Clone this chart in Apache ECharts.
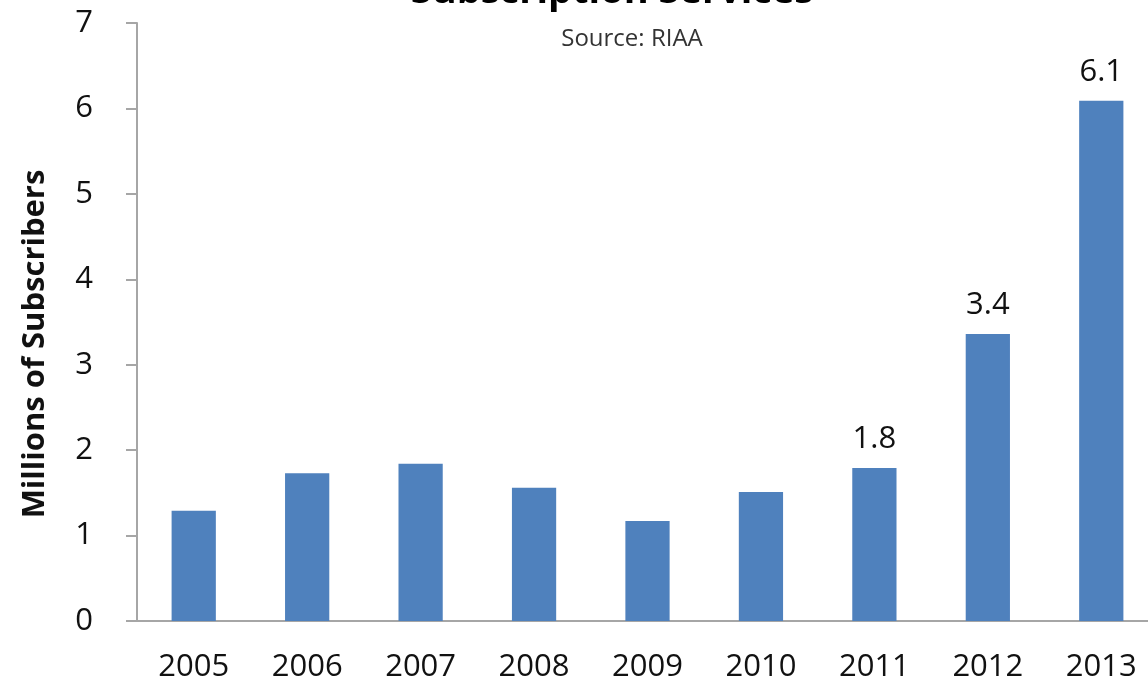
<!DOCTYPE html>
<html>
<head>
<meta charset="utf-8">
<script src="https://cdn.jsdelivr.net/npm/echarts@6/dist/echarts.min.js"></script>
<style>
  html, body {margin: 0; padding: 0; background: #fff; overflow: hidden;}
  #chart {width: 1170px; height: 687px;}
</style>
</head>
<body>
<div id="chart"></div>
<script>
const years = ['2005', '2006', '2007', '2008', '2009', '2010', '2011', '2012', '2013']
const subscribers = [1.29, 1.73, 1.84, 1.56, 1.17, 1.51, 1.79, 3.36, 6.09]
const shownLabels = {'2011': '1.8', '2012': '3.4', '2013': '6.1'}
const yTicks = [0, 7, 1]  // min, max, interval

const font = '"Open Sans", "Liberation Sans", sans-serif'
const axisGray = '#a6a6a6'
const ink = '#111'

const chart = echarts.init(document.getElementById('chart'))

chart.setOption({
  animation: false,
  title: [{
    text: 'Subscription Services',
    left: 607,
    top: -32,
    textAlign: 'center',
    textStyle: {fontFamily: font, fontSize: 38, fontWeight: 'bold', color: '#000'},
  }, {
    text: 'Source: RIAA',
    left: 627,
    top: 22,
    textAlign: 'center',
    textStyle: {fontFamily: font, fontSize: 24, fontWeight: 'normal', color: '#333'},
  }],
  // the plot runs past the right edge of the window, as in the picture
  grid: {left: 137, top: 23, bottom: 66, width: 1021},
  xAxis: {
    type: 'category',
    data: years,
    axisLine: {lineStyle: {color: axisGray, width: 2}},
    axisTick: {show: false},
    axisLabel: {fontFamily: font, fontSize: 31, color: ink, margin: 31},
  },
  yAxis: {
    type: 'value',
    min: yTicks[0],
    max: yTicks[1],
    interval: yTicks[2],
    name: 'Millions of Subscribers',
    nameLocation: 'middle',
    nameGap: 86,
    nameTextStyle: {fontFamily: font, fontSize: 31, fontWeight: 'bold', color: ink, padding: [0, 44, 0, 0]},
    axisLine: {show: true, lineStyle: {color: axisGray, width: 2}},
    axisTick: {show: true, length: 11, lineStyle: {color: axisGray, width: 2}},
    splitLine: {show: false},
    axisLabel: {fontFamily: font, fontSize: 31, color: ink, margin: 44},
  },
  series: [{
    type: 'bar',
    data: subscribers.map((v, i) => ({
      value: v,
      label: {show: !!shownLabels[years[i]], formatter: shownLabels[years[i]] || ''},
    })),
    barWidth: '39%',
    itemStyle: {color: '#4f81bd'},
    label: {
      position: 'top',
      distance: 13,
      fontFamily: font,
      fontSize: 31,
      color: ink,
    },
  }],
})
</script>
</body>
</html>
